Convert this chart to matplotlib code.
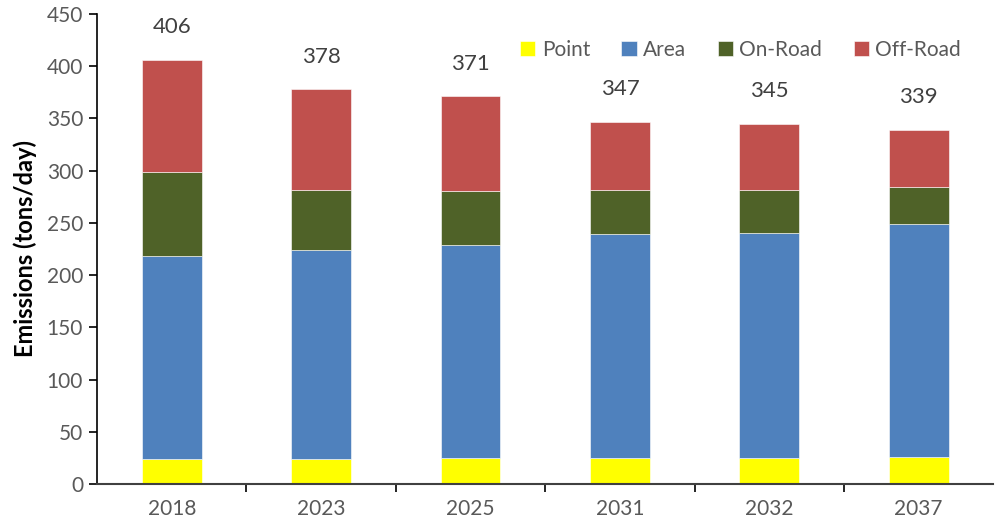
import numpy as np
import matplotlib.pyplot as plt
from matplotlib.ticker import FixedLocator, NullFormatter

plt.rcParams['font.family'] = ['Lato', 'DejaVu Sans']

years = ['2018', '2023', '2025', '2031', '2032', '2037']
point = [23.5, 24.0, 24.5, 25.0, 25.0, 25.5]
area = [194.5, 200.0, 204.3, 214.0, 215.3, 223.1]
on_road = [81.0, 57.8, 52.1, 42.2, 40.9, 35.8]
off_road = [107.0, 96.2, 90.1, 65.8, 63.8, 54.6]

series = [('Point', point, '#FFFF00'),
          ('Area', area, '#4F81BD'),
          ('On-Road', on_road, '#4F6228'),
          ('Off-Road', off_road, '#C0504D')]

fig = plt.figure(figsize=(9.96, 5.27), dpi=100)
ax = fig.add_axes([0.0974, 0.0816, 0.9, 0.892])

x = np.arange(len(years))
bottom = np.zeros(len(years))
for name, vals, color in series:
    ax.bar(x, vals, 0.4, bottom=bottom, color=color, label=name,
           edgecolor='white', linewidth=0.4)
    bottom += np.array(vals)

# totals above each stack
for xi, tot in zip(x, bottom):
    ax.text(xi, tot + 31, f'{tot:.0f}', ha='center', va='center',
            fontsize=16, color='#404040')

ax.set_xlim(-0.5, len(years) - 0.5)
ax.set_ylim(0, 450)
ax.set_yticks(np.arange(0, 451, 50))
ax.set_xticks(x)
ax.set_xticklabels(years)
ax.xaxis.set_minor_locator(FixedLocator(np.arange(0.5, len(years) - 0.5, 1)))
ax.xaxis.set_minor_formatter(NullFormatter())
ax.tick_params(axis='x', which='major', length=0, pad=11, labelsize=15,
               colors='#595959')
ax.tick_params(axis='x', which='minor', length=6, width=1.2, color='black')
ax.tick_params(axis='y', length=6, width=1.2, color='black', labelsize=15,
               labelcolor='#595959', pad=4)

for s in ['top', 'right']:
    ax.spines[s].set_visible(False)
ax.spines['left'].set_linewidth(1.2)
ax.spines['bottom'].set_linewidth(1.5)
ax.spines['bottom'].set_color('#404040')

ax.set_ylabel('Emissions (tons/day)', fontsize=17, fontweight='bold',
              labelpad=7)

ax.legend(loc='upper right', ncol=4, frameon=False, fontsize=15,
          handlelength=0.75, handleheight=0.75, handletextpad=0.3,
          columnspacing=1.5, bbox_to_anchor=(0.985, 0.985),
          labelcolor='#595959')

fig.savefig('out.png', dpi=100)
